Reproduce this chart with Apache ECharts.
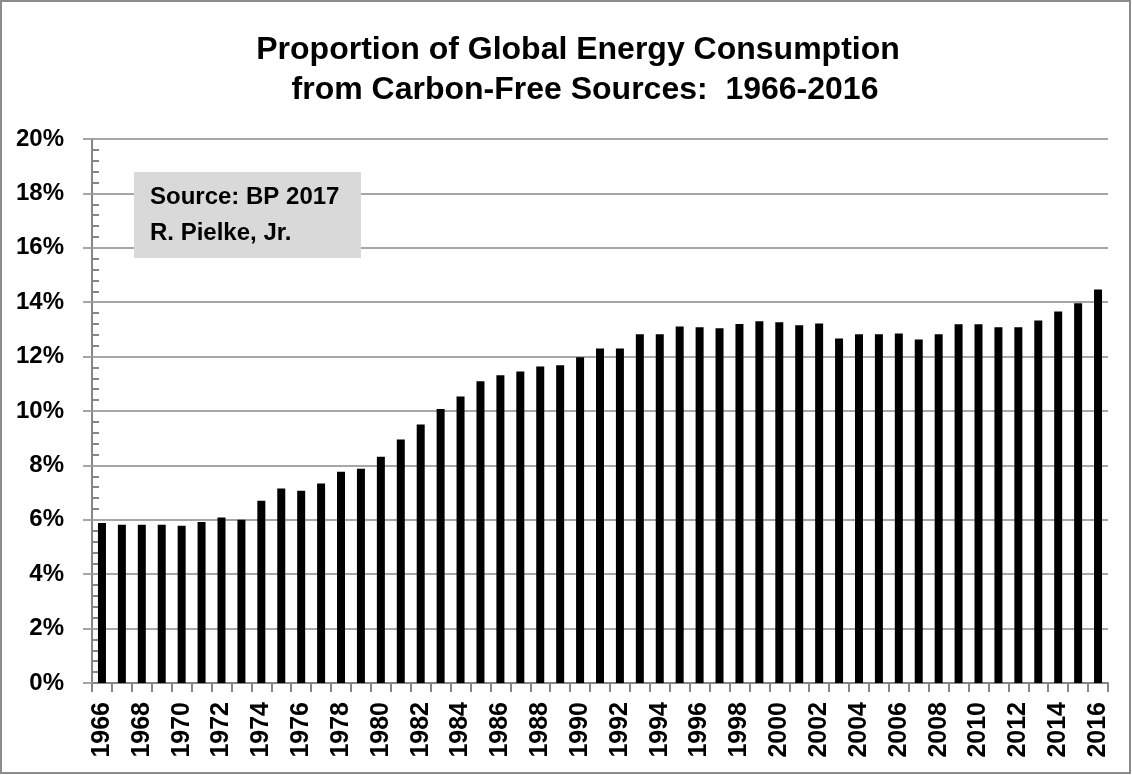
<!DOCTYPE html>
<html>
<head>
<meta charset="utf-8">
<script src="https://cdn.jsdelivr.net/npm/echarts@6/dist/echarts.min.js"></script>
<style>
html,body{margin:0;padding:0;background:#fff;}
#chart{width:1132px;height:775px;}
</style>
</head>
<body>
<div id="chart"></div>
<script>
// ---- data ----
const years = ['1966','1967','1968','1969','1970','1971','1972','1973','1974','1975',
  '1976','1977','1978','1979','1980','1981','1982','1983','1984','1985',
  '1986','1987','1988','1989','1990','1991','1992','1993','1994','1995',
  '1996','1997','1998','1999','2000','2001','2002','2003','2004','2005',
  '2006','2007','2008','2009','2010','2011','2012','2013','2014','2015','2016'];
const carbonFreeShare = [5.88,5.82,5.82,5.82,5.78,5.92,6.08,6.00,6.70,7.15,
  7.07,7.33,7.77,7.88,8.32,8.95,9.50,10.07,10.53,11.09,
  11.31,11.45,11.64,11.68,11.98,12.30,12.30,12.82,12.82,13.11,
  13.08,13.04,13.20,13.30,13.26,13.15,13.22,12.67,12.82,12.82,
  12.85,12.63,12.82,13.19,13.19,13.08,13.08,13.33,13.66,13.96,14.47];
const titleLines = ['Proportion of Global Energy Consumption', 'from Carbon-Free Sources:  1966-2016'];
const sourceLines = ['Source: BP 2017', 'R. Pielke, Jr.'];
const yMin = 0, yMax = 20, yStep = 2;

const FONT = '"Liberation Sans", Arial, sans-serif';
const GRID_GRAY = '#a6a6a6';
const AXIS_GRAY = '#868686';

const chart = echarts.init(document.getElementById('chart'), null, {renderer: 'canvas'});
chart.setOption({
  backgroundColor: '#ffffff',
  animation: false,
  grid: {left: 92, right: 24, top: 139, bottom: 92, containLabel: false},
  xAxis: {
    type: 'category',
    data: years,
    boundaryGap: true,
    axisLine: {show: true, lineStyle: {color: AXIS_GRAY, width: 2}},
    axisTick: {show: true, interval: 0, length: 9, alignWithLabel: false, lineStyle: {color: AXIS_GRAY, width: 2}},
    axisLabel: {
      interval: 1, rotate: 90, margin: 19,
      fontFamily: FONT, fontWeight: 'bold', fontSize: 25, color: '#000'
    },
    splitLine: {show: false}
  },
  yAxis: [
    {
      type: 'value', min: yMin, max: yMax, interval: yStep, position: 'left',
      axisLine: {show: true, lineStyle: {color: AXIS_GRAY, width: 2}},
      axisTick: {show: true, length: 9, lineStyle: {color: GRID_GRAY, width: 2}},
      axisLabel: {formatter: '{value}%', margin: 28, fontFamily: FONT, fontWeight: 'bold', fontSize: 24, color: '#000'},
      splitLine: {show: true, lineStyle: {color: GRID_GRAY, width: 2}}
    },
    {
      type: 'value', min: yMin, max: yMax, interval: yStep, position: 'left',
      axisLine: {show: false},
      axisTick: {show: false, inside: true},
      axisLabel: {show: false},
      splitLine: {show: false},
      minorTick: {show: true, splitNumber: 5, length: 7, lineStyle: {color: AXIS_GRAY, width: 2}}
    }
  ],
  series: [{
    type: 'bar',
    data: carbonFreeShare,
    yAxisIndex: 0,
    barWidth: 8,
    itemStyle: {color: '#000'},
    silent: true
  }],
  graphic: [
    {type: 'rect', shape: {x: 1, y: 1, width: 1129, height: 772}, style: {fill: 'none', stroke: '#8c8c8c', lineWidth: 2}, z: 100},
    {type: 'text', x: 578, y: 50, style: {text: titleLines[0], font: 'bold 32px ' + FONT, fill: '#000', align: 'center', verticalAlign: 'middle'}},
    {type: 'text', x: 585, y: 90, style: {text: titleLines[1], font: 'bold 32px ' + FONT, fill: '#000', align: 'center', verticalAlign: 'middle'}},
    {type: 'rect', shape: {x: 134, y: 172, width: 227, height: 86}, style: {fill: '#d9d9d9'}, z: 50},
    {type: 'text', x: 150, y: 197, style: {text: sourceLines[0], font: 'bold 24px ' + FONT, fill: '#000', align: 'left', verticalAlign: 'middle'}, z: 51},
    {type: 'text', x: 150, y: 233, style: {text: sourceLines[1], font: 'bold 24px ' + FONT, fill: '#000', align: 'left', verticalAlign: 'middle'}, z: 51}
  ]
});
</script>
</body>
</html>
